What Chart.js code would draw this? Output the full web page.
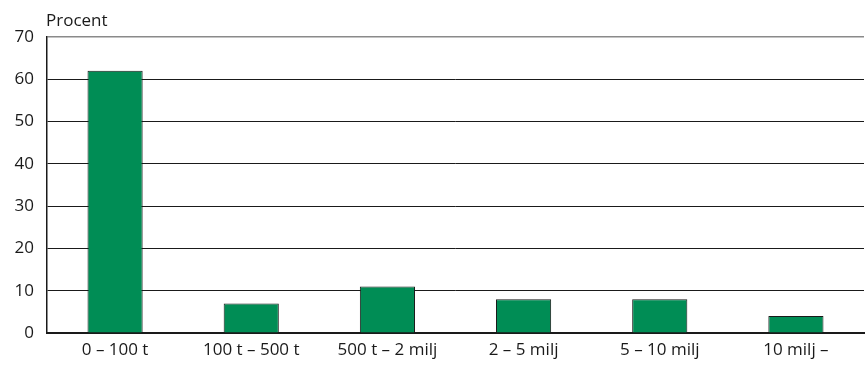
<!DOCTYPE html>
<html>
<head>
<meta charset="utf-8">
<script src="https://cdn.jsdelivr.net/npm/chart.js@4/dist/chart.umd.min.js"></script>
<style>
  html, body { margin: 0; padding: 0; background: #fff; }
  #wrap { width: 865px; height: 365px; }
</style>
</head>
<body>
<div id="wrap"><canvas id="c" width="865" height="365"></canvas></div>
<script>
// Size classes (turnover) and share of companies, in percent
const categories = ['0 – 100 t', '100 t – 500 t', '500 t – 2 milj', '2 – 5 milj', '5 – 10 milj', '10 milj –'];
const shares = [62, 7, 11, 8, 8, 4];
const yTicks = [0, 10, 20, 30, 40, 50, 60, 70];
const unitLabel = 'Procent';

const FONT = '"Open Sans", "DejaVu Sans", sans-serif';
const FONT_SIZE = 17;

// Draws the unit label above the value axis
const unitLabelPlugin = {
  id: 'unitLabel',
  afterDraw(chart) {
    const ctx = chart.ctx;
    ctx.save();
    ctx.font = FONT_SIZE + 'px ' + FONT;
    ctx.fillStyle = '#1a1a1a';
    ctx.textAlign = 'left';
    ctx.textBaseline = 'alphabetic';
    ctx.fillText(unitLabel, chart.chartArea.left - 1, 26);
    ctx.restore();
  }
};

new Chart(document.getElementById('c'), {
  type: 'bar',
  data: {
    labels: categories,
    datasets: [{
      data: shares,
      backgroundColor: '#008d55',
      borderColor: '#1a1a1a',
      borderWidth: 1,
      borderSkipped: 'bottom',
      barPercentage: 0.405,
      categoryPercentage: 1
    }]
  },
  options: {
    responsive: false,
    animation: false,
    devicePixelRatio: 1,
    layout: { padding: { top: 37, right: 1, left: 0, bottom: 0 } },
    plugins: {
      legend: { display: false },
      tooltip: { enabled: false }
    },
    scales: {
      x: {
        grid: { display: false, drawTicks: false },
        border: { color: '#1a1a1a', width: 2 },
        ticks: {
          color: '#1a1a1a',
          font: { family: FONT, size: FONT_SIZE },
          padding: 7,
          maxRotation: 0,
          autoSkip: false
        },
        afterFit(scale) { scale.height = 32; }
      },
      y: {
        min: 0,
        max: 70,
        afterBuildTicks(scale) { scale.ticks = yTicks.map(v => ({ value: v })); },
        grid: {
          drawTicks: false,
          color: ctx => (ctx.tick && ctx.tick.value === 70) ? '#8a8a8a' : '#1a1a1a',
          lineWidth: ctx => (ctx.tick && ctx.tick.value === 70) ? 1.5 : 1
        },
        border: { color: '#1a1a1a', width: 1.5 },
        ticks: {
          color: '#1a1a1a',
          font: { family: FONT, size: FONT_SIZE },
          padding: 13
        },
        afterFit(scale) { scale.width = 47; }
      }
    }
  },
  plugins: [unitLabelPlugin]
});
</script>
</body>
</html>
